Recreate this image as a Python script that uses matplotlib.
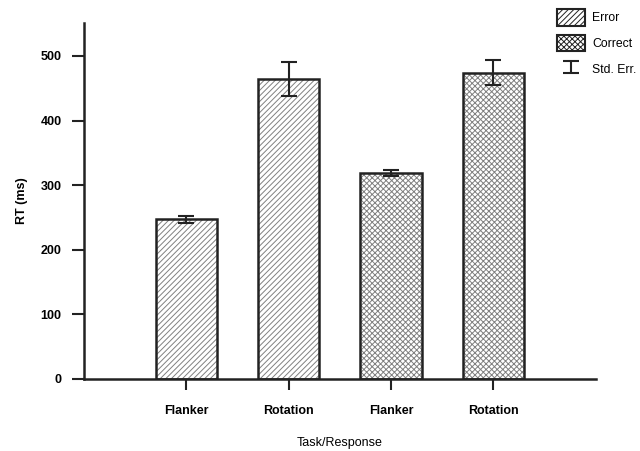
import numpy as np
import matplotlib
matplotlib.use("Agg")
import matplotlib.pyplot as plt
from matplotlib.patches import Patch

plt.rcParams['font.family'] = ['Liberation Sans', 'DejaVu Sans']
plt.rcParams['hatch.linewidth'] = 0.7

labels = ["Flanker", "Rotation", "Flanker", "Rotation"]
rt = [247, 464, 319, 474]
se = [5, 26, 5, 19]
hatches = ["//////", "//////", "xxxxxx", "xxxxxx"]
pos = np.arange(1, len(rt) + 1)

fig = plt.figure(figsize=(6.4, 4.51), dpi=100)
ax = fig.add_axes([0.131, 0.16, 0.8, 0.789])

# hatch in grey, outline in black -> two layers
ax.bar(pos, rt, width=0.6, color="white", edgecolor="#808080", hatch=hatches, linewidth=0, zorder=2)
ax.bar(pos, rt, width=0.6, fill=False, edgecolor="#222222", linewidth=1.8, zorder=3)
eb = ax.errorbar(pos, rt, yerr=se, fmt="none", ecolor="#222222", elinewidth=1.5,
                 capsize=5.5, capthick=1.5, zorder=4)

ax.set_xlim(0, 5)
ax.set_ylim(0, 551)
ax.set_xticks(pos, labels)
ax.set_yticks(range(0, 501, 100))
for lab in ax.get_xticklabels() + ax.get_yticklabels():
    lab.set_fontweight("bold")
ax.tick_params(axis="x", length=8, width=1.5, pad=11, labelsize=9, color="#222222")
ax.tick_params(axis="y", length=9, width=1.5, pad=7, labelsize=9, color="#222222")
ax.spines["top"].set_visible(False)
ax.spines["right"].set_visible(False)
for s in ["left", "bottom"]:
    ax.spines[s].set_linewidth(1.8)
    ax.spines[s].set_color("#222222")

ax.set_ylabel("RT (ms)", fontweight="bold", fontsize=9, labelpad=9)
ax.set_xlabel("Task/Response", fontsize=9, labelpad=14)

h1 = Patch(facecolor="white", edgecolor="#222222", hatch="//////", linewidth=1.5)
h2 = Patch(facecolor="white", edgecolor="#222222", hatch="xxxxxx", linewidth=1.5)
fig.legend([h1, h2, eb], ["Error", "Correct", "Std. Err."], loc="upper left",
           bbox_to_anchor=(0.856, 1.0), frameon=False, fontsize=8.8,
           handlelength=2.3, handleheight=1.7, labelspacing=0.75, handletextpad=0.6,
           borderaxespad=0.35)

fig.savefig("out.png", dpi=100)
